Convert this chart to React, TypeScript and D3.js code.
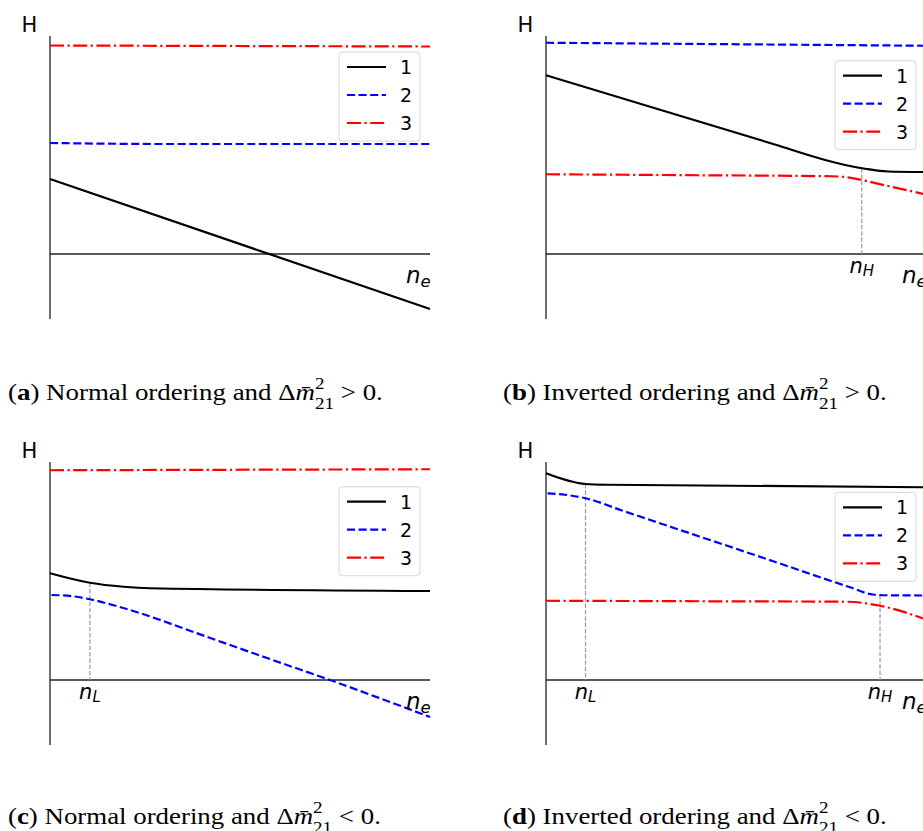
import React, { useLayoutEffect, useRef, useState } from 'react';
import * as d3 from 'd3';

type Pt = [number, number];

// ---------- data (x: electron density in arbitrary units 0..10, y: eigenvalue H) ----------
// Panel (a): Normal ordering, dm21 > 0
const A_LINE1: Pt[] = [[0, 3.0], [10, -2.2]];
const A_LINE2: Pt[] = [[0, 4.44], [3, 4.4], [10, 4.4]];
const A_LINE3: Pt[] = [[0, 8.34], [10, 8.3]];
const A_GUIDES: Pt[] = [];
const A_GUIDE_LABELS: string[] = [];

// Panel (b): Inverted ordering, dm21 > 0
const B_LINE1: Pt[] = [[0, 7.15], [3, 5.77], [6, 4.39], [7.5, 3.7], [8.0, 3.52], [8.4, 3.41], [9.0, 3.3], [10, 3.28]];
const B_LINE2: Pt[] = [[0, 8.45], [10, 8.33]];
const B_LINE3: Pt[] = [[0, 3.19], [4, 3.15], [7.5, 3.11], [7.92, 3.07], [8.31, 2.96], [9, 2.72], [10, 2.38]];
const B_GUIDES: Pt[] = [[8.31, 3.43]];
const B_GUIDE_LABELS: string[] = ['H'];

// Panel (c): Normal ordering, dm21 < 0
const C_LINE1: Pt[] = [[0, 4.27], [1.05, 3.89], [1.93, 3.73], [2.63, 3.67], [10, 3.56]];
const C_LINE2: Pt[] = [[0.04, 3.4], [0.6, 3.35], [1.05, 3.23], [1.7, 2.98], [2.4, 2.66], [3.7, 1.96], [5.0, 1.26], [6.2, 0.62], [7.37, 0], [8.7, -0.74], [10, -1.48]];
const C_LINE3: Pt[] = [[0, 8.39], [10, 8.43]];
const C_GUIDES: Pt[] = [[1.05, 3.89]];
const C_GUIDE_LABELS: string[] = ['L'];

// Panel (d): Inverted ordering, dm21 < 0
const D_LINE1: Pt[] = [[0, 8.27], [1.04, 7.84], [1.6, 7.81], [10, 7.71]];
const D_LINE2: Pt[] = [[0.04, 7.47], [0.5, 7.41], [1.04, 7.27], [2, 6.78], [4, 5.76], [6, 4.74], [8.0, 3.71], [8.6, 3.42], [9.0, 3.39], [10, 3.38]];
const D_LINE3: Pt[] = [[0, 3.17], [4, 3.15], [7.91, 3.13], [8.79, 2.97], [10, 2.42]];
const D_GUIDES: Pt[] = [[1.04, 7.84], [8.79, 3.4]];
const D_GUIDE_LABELS: string[] = ['L', 'H'];

const LEGEND_LABELS = ['1', '2', '3'];
const CAPTION_LETTERS = ['a', 'b', 'c', 'd'];
const CAPTION_TEXTS = ['Normal ordering and', 'Inverted ordering and', 'Normal ordering and', 'Inverted ordering and'];
const CAPTION_RELS = ['>', '>', '<', '<'];

const X_DOMAIN: [number, number] = [0, 10];
const Y_DOMAIN: [number, number] = [-2.6, 8.72];

// ---------- styles ----------
const SERIES_STYLE = [
  { color: '#000000', dash: '' },
  { color: '#0000ff', dash: '8.1,3.5' },
  { color: '#ff0000', dash: '14,3.5,2.2,3.5' },
];
const LW = 2.2;
const SANS = 'DejaVu Sans';
const SERIF = "'Liberation Serif', 'Times New Roman', Times, serif";

// ---------- layout ----------
const P_LEFT = 50;
const P_RIGHT = 430;
const P_TOP = 36;
const P_BOTTOM = 319;

interface PanelProps {
  ox: number;
  oy: number;
  lines: Pt[][];
  guides: Pt[];
  guideLabels: string[];
  legendTop: number;
}

function Panel({ ox, oy, lines, guides, guideLabels, legendTop }: PanelProps) {
  const x = d3.scaleLinear().domain(X_DOMAIN).range([P_LEFT, P_RIGHT]);
  const y = d3.scaleLinear().domain(Y_DOMAIN).range([P_BOTTOM, P_TOP]);
  const gen = d3
    .line<Pt>()
    .x((d) => x(d[0]))
    .y((d) => y(d[1]))
    .curve(d3.curveMonotoneX);
  const axisY = y(0);
  const lx = P_RIGHT - 91;
  const lw = 81;
  const lh = 89;
  return (
    <g transform={`translate(${ox},${oy})`}>
      {/* spines */}
      <line x1={P_LEFT} x2={P_LEFT} y1={P_TOP} y2={P_BOTTOM} stroke="#222" strokeWidth={1.3} />
      <line x1={P_LEFT} x2={P_RIGHT} y1={axisY} y2={axisY} stroke="#222" strokeWidth={1.3} />
      {/* guides */}
      {guides.map((g, i) => (
        <g key={'g' + i}>
          <line
            x1={x(g[0])}
            x2={x(g[0])}
            y1={y(g[1])}
            y2={axisY}
            stroke="#9a9a9a"
            strokeWidth={1.2}
            strokeDasharray="4.4,1.9"
          />
          <text
            x={x(g[0])}
            y={axisY + 19}
            textAnchor="middle"
            fontFamily={SANS}
            fontStyle="italic"
            fontSize={21}
            fill="#000"
          >
            n<tspan fontSize={15} dy={3.4}>{guideLabels[i]}</tspan>
          </text>
        </g>
      ))}
      {/* series */}
      {lines.map((pts, i) => (
        <path
          key={'s' + i}
          d={gen(pts) || ''}
          fill="none"
          stroke={SERIES_STYLE[i].color}
          strokeWidth={LW}
          strokeDasharray={SERIES_STYLE[i].dash || undefined}
        />
      ))}
      {/* axis labels */}
      <text x={P_LEFT - 20.5} y={P_TOP - 4.3} textAnchor="middle" fontFamily={SANS} fontSize={21} fill="#000">
        H
      </text>
      <text x={P_RIGHT - 24} y={axisY + 29.4} fontFamily={SANS} fontStyle="italic" fontSize={23} fill="#000">
        n<tspan fontSize={16.5} dy={3.5}>e</tspan>
      </text>
      {/* legend */}
      <rect
        x={lx}
        y={legendTop}
        width={lw}
        height={lh}
        rx={3.5}
        fill="#ffffff"
        fillOpacity={0.8}
        stroke="#d6d6d6"
        strokeWidth={1}
      />
      {LEGEND_LABELS.map((lab, i) => {
        const ry = legendTop + 15 + i * 28;
        return (
          <g key={'l' + i}>
            <line
              x1={lx + 8}
              x2={lx + 47}
              y1={ry}
              y2={ry}
              stroke={SERIES_STYLE[i].color}
              strokeWidth={LW}
              strokeDasharray={SERIES_STYLE[i].dash || undefined}
            />
            <text x={lx + 67} y={ry + 7} textAnchor="middle" fontFamily={SANS} fontSize={19} fill="#000">
              {lab}
            </text>
          </g>
        );
      })}
    </g>
  );
}

interface CaptionProps {
  x: number;
  y: number;
  width: number;
  letter: string;
  text: string;
  rel: string;
}

function Caption({ x, y, width, letter, text, rel }: CaptionProps) {
  const ref = useRef<SVGTextElement>(null);
  const [sx, setSx] = useState(1);
  useLayoutEffect(() => {
    if (ref.current) {
      const w = ref.current.getBBox().width;
      if (w > 0) setSx(width / w);
    }
  }, [width]);
  return (
    <g transform={`translate(${x},${y}) scale(${sx},1)`}>
      <text ref={ref} x={0} y={0} fontFamily={SERIF} fontSize={22.5} fill="#000">
        (<tspan fontWeight="bold">{letter}</tspan>) {text} Δ<tspan fontStyle="italic">{'m\u0304'}</tspan>
        <tspan fontSize={16} dy={-11}>2</tspan>
        <tspan fontSize={16} dx={-8} dy={20}>21</tspan>
        <tspan dy={-9}>{' ' + rel + ' 0.'}</tspan>
      </text>
    </g>
  );
}

export default function App() {
  const panels = [
    { ox: 0, oy: 0, lines: [A_LINE1, A_LINE2, A_LINE3], guides: A_GUIDES, guideLabels: A_GUIDE_LABELS, legendTop: 52 },
    { ox: 496, oy: 0, lines: [B_LINE1, B_LINE2, B_LINE3], guides: B_GUIDES, guideLabels: B_GUIDE_LABELS, legendTop: 60.7 },
    { ox: 0, oy: 426, lines: [C_LINE1, C_LINE2, C_LINE3], guides: C_GUIDES, guideLabels: C_GUIDE_LABELS, legendTop: 60.7 },
    { ox: 496, oy: 426, lines: [D_LINE1, D_LINE2, D_LINE3], guides: D_GUIDES, guideLabels: D_GUIDE_LABELS, legendTop: 66.3 },
  ];
  const capPos = [
    { x: 8, y: 400, w: 375 },
    { x: 503, y: 400, w: 384 },
    { x: 8, y: 824, w: 373 },
    { x: 503, y: 824, w: 384 },
  ];
  return (
    <svg
      width={923}
      height={831}
      viewBox="0 0 923 831"
      style={{ position: 'absolute', left: 0, top: 0, background: '#fff' }}
    >
      <rect x={0} y={0} width={923} height={831} fill="#fff" />
      {panels.map((p, i) => (
        <Panel key={i} {...p} />
      ))}
      {capPos.map((c, i) => (
        <Caption
          key={'c' + i}
          x={c.x}
          y={c.y}
          width={c.w}
          letter={CAPTION_LETTERS[i]}
          text={CAPTION_TEXTS[i]}
          rel={CAPTION_RELS[i]}
        />
      ))}
    </svg>
  );
}
